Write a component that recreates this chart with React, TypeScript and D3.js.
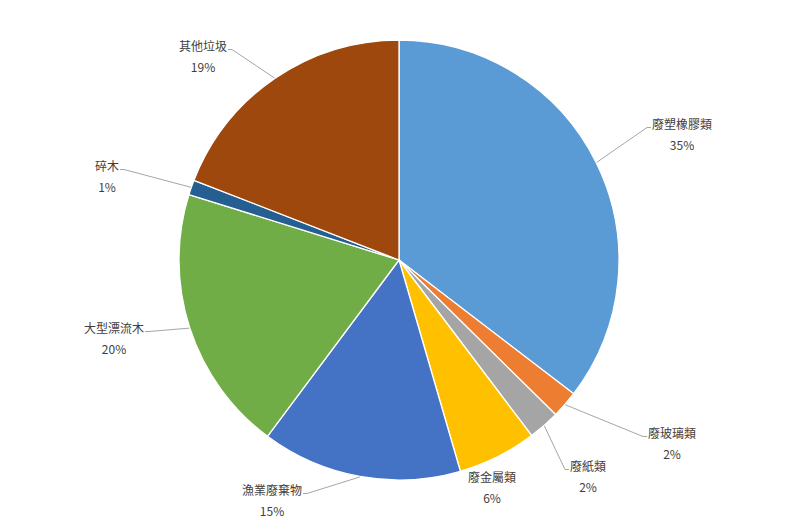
import React from "react";
import * as d3 from "d3";

const categories = ["廢塑橡膠類", "廢玻璃類", "廢紙類", "廢金屬類", "漁業廢棄物", "大型漂流木", "碎木", "其他垃圾"];
const values = [35.4, 2.0, 2.3, 5.8, 14.7, 19.6, 1.1, 19.1];
const colors = ["#5B9BD5", "#ED7D31", "#A5A5A5", "#FFC000", "#4472C4", "#70AD47", "#255E91", "#9E480E"];

// label layout: centre of first text line (absolute px), side of leader, whether a leader is drawn
const labelLayout = [
  { x: 682, y: 123, side: "left", leader: true },
  { x: 672, y: 432, side: "left", leader: true },
  { x: 588, y: 465, side: "left", leader: true },
  { x: 492, y: 476, side: "none", leader: false },
  { x: 272, y: 489, side: "right", leader: true },
  { x: 114, y: 327, side: "right", leader: true },
  { x: 107, y: 165, side: "right", leader: true },
  { x: 203, y: 45, side: "right", leader: true },
];

const W = 789;
const H = 521;
const CX = 399;
const CY = 260;
const R = 220;
const FONT = "'Microsoft JhengHei', 'Noto Sans CJK TC', sans-serif";

export default function App() {
  const total = d3.sum(values);
  const pie = d3.pie<number>().sort(null).value((d) => d);
  const arcs = pie(values);
  const arc = d3.arc<d3.PieArcDatum<number>>().innerRadius(0).outerRadius(R);

  return (
    <div style={{ position: "absolute", left: 0, top: 0 }}>
      <svg width={W} height={H} style={{ display: "block", background: "#fff" }}>
        <g transform={`translate(${CX},${CY})`}>
          {arcs.map((a, i) => (
            <path key={i} d={arc(a) || ""} fill={colors[i]} stroke="#fff" strokeWidth={1.3} strokeLinejoin="round" />
          ))}
        </g>
        {arcs.map((a, i) => {
          const L = labelLayout[i];
          const name = categories[i];
          const tw = name.length * 12;
          const mid = (a.startAngle + a.endAngle) / 2;
          const sx = CX + Math.sin(mid) * (R + 0.5);
          const sy = CY - Math.cos(mid) * (R + 0.5);
          const ly = L.y + 4.5;
          let pts: [number, number][] = [];
          if (L.leader) {
            if (L.side === "left") {
              const ex = L.x - tw / 2;
              pts = [[sx, sy], [ex - 5, ly], [ex - 1, ly]];
            } else {
              const ex = L.x + tw / 2;
              pts = [[sx, sy], [ex + 5, ly], [ex + 1, ly]];
            }
          }
          const pct = Math.round((values[i] / total) * 100) + "%";
          return (
            <g key={"l" + i}>
              {L.leader && (
                <path d={d3.line()(pts) || ""} fill="none" stroke="#A6A6A6" strokeWidth={1} />
              )}
              <text x={L.x} y={L.y} textAnchor="middle" dominantBaseline="central" fontFamily={FONT} fontSize={12} fill="#404040">
                {name}
              </text>
              <text x={L.x} y={L.y + 21} textAnchor="middle" dominantBaseline="central" fontFamily={FONT} fontSize={12} fill="#404040">
                {pct}
              </text>
            </g>
          );
        })}
      </svg>
    </div>
  );
}
